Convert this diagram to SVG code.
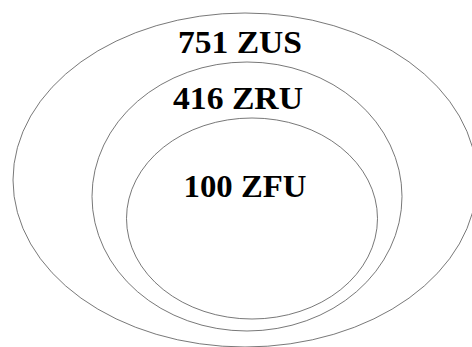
<svg xmlns="http://www.w3.org/2000/svg" width="472" height="347" viewBox="0 0 472 347">
<style>
.e{fill:none;stroke:#555;stroke-width:0.8}
.t{font-family:"Liberation Serif",serif;font-weight:bold;font-size:31px;fill:#000;text-anchor:middle}
</style>
<rect width="472" height="347" fill="#fff"/>
<g id="zus"><ellipse class="e" cx="245" cy="180" rx="232" ry="167"/><text class="t" x="240" y="53" textLength="124" lengthAdjust="spacingAndGlyphs">751 ZUS</text></g>
<g id="zru"><ellipse class="e" cx="247" cy="196.5" rx="155" ry="134.5"/><text class="t" x="238" y="109" textLength="130" lengthAdjust="spacingAndGlyphs">416 ZRU</text></g>
<g id="zfu"><ellipse class="e" cx="252" cy="218.5" rx="125.5" ry="100.5"/><text class="t" x="245" y="197" textLength="123" lengthAdjust="spacingAndGlyphs">100 ZFU</text></g>
<g id="connectors"/>
</svg>
